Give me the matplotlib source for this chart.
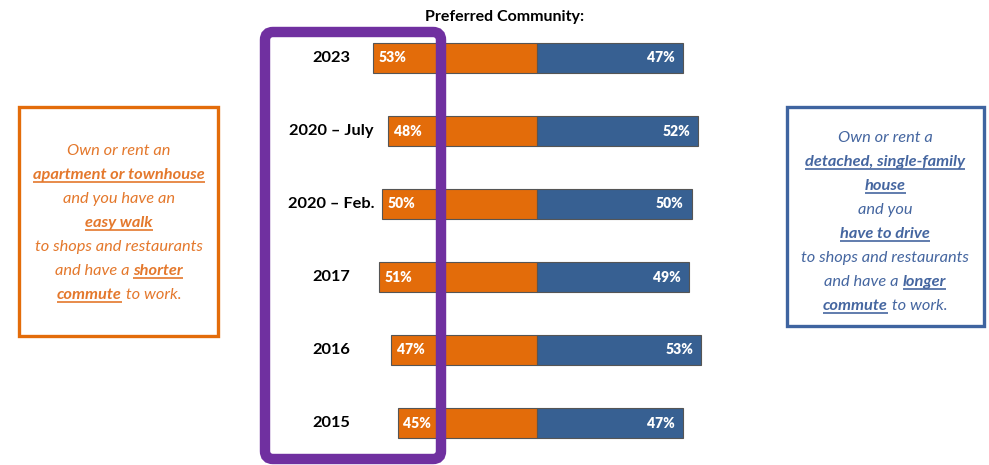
import matplotlib
matplotlib.use("Agg")
import matplotlib.pyplot as plt
from matplotlib.patches import FancyBboxPatch, Rectangle

# Survey results: share preferring each kind of community
years = ["2023", "2020 – July", "2020 – Feb.", "2017", "2016", "2015"]
walkable = [53, 48, 50, 51, 47, 45]      # apartment / townhouse, easy walk
drivable = [47, 52, 50, 49, 53, 47]      # detached house, have to drive

title = "Preferred Community:"

# Box texts: each line is a list of (text, emphasised) segments
walkable_lines = [
    [("Own or rent an", False)],
    [("apartment or townhouse", True)],
    [("and you have an", False)],
    [("easy walk", True)],
    [("to shops and restaurants", False)],
    [("and have a ", False), ("shorter", True)],
    [("commute", True), (" to work.", False)],
]
drivable_lines = [
    [("Own or rent a", False)],
    [("detached, single-family", True)],
    [("house", True)],
    [("and you", False)],
    [("have to drive", True)],
    [("to shops and restaurants", False)],
    [("and have a ", False), ("longer", True)],
    [("commute", True), (" to work.", False)],
]

ORANGE = "#E36C0A"
ORANGE_TXT = "#E4782C"
BLUE = "#376092"
BOX_BLUE = "#3F64A0"
BLUE_TXT = "#4566A0"
PURPLE = "#7030A0"
FONT = "Lato"

W, H = 989, 465
fig = plt.figure(figsize=(W / 100, H / 100), dpi=100)
fig.patch.set_facecolor("white")

# ---- bar axes: 0% at the centre line, ~3.1 px per percent ----
px_per = 3.1
centre = 537
half = 60
left_px = centre - half * px_per
row_top, row_step = 58, 73
top_px = row_top - row_step / 2
bot_px = row_top + row_step * (len(years) - 1) + row_step / 2
ax = fig.add_axes([left_px / W, 1 - bot_px / H,
                   2 * half * px_per / W, (bot_px - top_px) / H])
ax.set_xlim(-half, half)
ax.set_ylim(len(years) - 0.5, -0.5)
ax.axis("off")

ypos = list(range(len(years)))
ax.barh(ypos, [-v for v in walkable], height=0.40, color=ORANGE,
        edgecolor="#555555", linewidth=0.8)
ax.barh(ypos, drivable, height=0.40, color=BLUE,
        edgecolor="#555555", linewidth=0.8)

for y, yr, a, b in zip(ypos, years, walkable, drivable):
    ax.annotate(f"{a}%", (-a, y), xytext=(4, 0), textcoords="offset points",
                ha="left", va="center", color="white", fontsize=10,
                fontweight="heavy", family=FONT)
    ax.annotate(f"{b}%", (b, y), xytext=(-6, 0), textcoords="offset points",
                ha="right", va="center", color="white", fontsize=10,
                fontweight="heavy", family=FONT)
    ax.text((331 - centre) / px_per, y, yr, ha="center", va="center",
            fontsize=11.8, fontweight="bold", family=FONT, color="black",
            clip_on=False)

# ---- overlay in pixel coordinates for title, boxes and highlight ----
ov = fig.add_axes([0, 0, 1, 1], zorder=5)
ov.set_xlim(0, W)
ov.set_ylim(H, 0)
ov.axis("off")
ov.patch.set_alpha(0)

ov.text(505, 17, title, ha="center", va="center", fontsize=11.5,
        fontweight="bold", family=FONT, color="black")

renderer = fig.canvas.get_renderer()


def rich_line(xc, yb, segments, color, size=11.8):
    """Draw one centred line made of plain and bold-underlined segments."""
    pieces = []
    total = 0.0
    for txt, emph in segments:
        t = ov.text(0, yb, txt, ha="left", va="baseline", fontsize=size,
                    family=FONT, style="italic", color=color,
                    fontweight="bold" if emph else "normal")
        w = t.get_window_extent(renderer).width
        pieces.append((t, w, emph, txt))
        total += w
    x = xc - total / 2
    for t, w, emph, txt in pieces:
        t.set_x(x)
        if emph:
            lead = len(txt) - len(txt.lstrip())
            trail = len(txt) - len(txt.rstrip())
            ov.plot([x + lead * 3.5, x + w - trail * 3.5], [yb + 3, yb + 3],
                    color=color, lw=1.2, solid_capstyle="butt")
        x += w


ov.add_patch(Rectangle((19, 107), 199, 229, fill=False, edgecolor=ORANGE,
                       linewidth=2.4))
for i, segs in enumerate(walkable_lines):
    rich_line(119, 155 + 24 * i, segs, ORANGE_TXT)

ov.add_patch(Rectangle((787, 107), 197, 219, fill=False, edgecolor=BOX_BLUE,
                       linewidth=2.4))
for i, segs in enumerate(drivable_lines):
    rich_line(885, 142 + 24 * i, segs, BLUE_TXT)

ov.add_patch(FancyBboxPatch((265, 32), 176, 427,
                            boxstyle="round,pad=0,rounding_size=8",
                            fill=False, edgecolor=PURPLE, linewidth=7.5))

fig.savefig("out.png", dpi=100, facecolor="white")
